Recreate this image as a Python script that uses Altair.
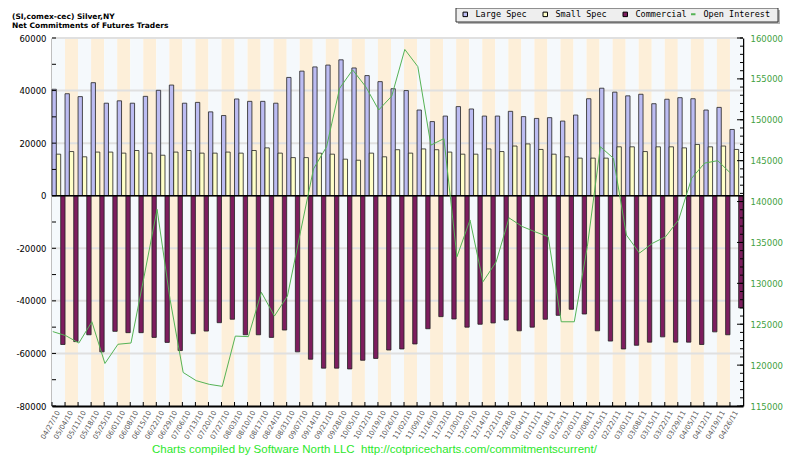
import altair as alt
import pandas as pd

dates = ["04/27/10", "05/04/10", "05/11/10", "05/18/10", "05/25/10", "06/01/10", "06/08/10",
         "06/15/10", "06/22/10", "06/29/10", "07/06/10", "07/13/10", "07/20/10", "07/27/10",
         "08/03/10", "08/10/10", "08/17/10", "08/24/10", "08/31/10", "09/07/10", "09/14/10",
         "09/21/10", "09/28/10", "10/05/10", "10/12/10", "10/19/10", "10/26/10", "11/02/10",
         "11/09/10", "11/16/10", "11/23/10", "11/30/10", "12/07/10", "12/14/10", "12/21/10",
         "12/28/10", "01/04/11", "01/11/11", "01/18/11", "01/25/11", "02/01/11", "02/08/11",
         "02/15/11", "02/22/11", "03/01/11", "03/08/11", "03/15/11", "03/22/11", "03/29/11",
         "04/05/11", "04/12/11", "04/19/11", "04/26/11"]

large_spec = [40500, 38800, 37700, 43000, 35200, 36100, 35200, 37800, 40100, 42100,
              35200, 35500, 31900, 30500, 36800, 35900, 35900, 35200, 45000, 47400,
              49000, 49700, 51700, 48600, 45700, 43400, 40700, 40000, 32600, 28200,
              30300, 33900, 33000, 30300, 30300, 32100, 30100, 29400, 29700, 28400,
              30700, 36900, 40900, 39400, 38000, 38600, 35000, 36700, 37300, 36900,
              32600, 33600, 25200]

small_spec = [15800, 16800, 14800, 16600, 16600, 16200, 17200, 16200, 15400, 16600,
              17200, 16200, 16200, 16600, 16200, 17200, 18200, 16200, 14500, 14500,
              16200, 15800, 13900, 13500, 16200, 14800, 17500, 16200, 17800, 17500,
              16600, 15800, 15800, 17800, 16800, 18900, 19700, 17600, 15800, 14800,
              14300, 14300, 14300, 18600, 18600, 16800, 18600, 18600, 18200, 19500,
              18600, 18900, 17600]

commercial = [-56600, -55500, -52900, -59400, -51600, -52100, -52100, -53900, -55800, -58900,
              -52500, -51500, -48300, -47000, -52900, -52900, -53900, -51100, -59400, -62200,
              -65600, -65600, -65900, -62600, -61900, -58700, -58300, -56400, -50600, -46000,
              -46900, -50000, -48900, -48400, -47300, -51400, -50000, -47000, -45500, -43200,
              -45000, -51400, -55300, -58300, -56900, -55700, -53700, -55700, -55700, -56600,
              -51800, -52900, -42700]

open_interest = [124100, 123600, 122700, 125300, 120200, 122550, 122700, 130800, 139050, 128000,
                 119100, 118100, 117650, 117400, 123550, 123480, 128900, 126000, 128450, 136300,
                 144000, 146700, 153850, 156100, 154050, 151200, 152900, 158600, 156500, 146900,
                 147700, 133250, 137750, 130200, 132600, 138000, 136950, 136300, 135700, 125300,
                 125300, 134500, 146700, 145300, 135900, 133700, 134900, 135700, 137750, 142850,
                 144700, 145000, 143450]

series_names = ["Large Spec", "Small Spec", "Commercial"]
series_colors = ["#bcbcf2", "#ffffc8", "#7d1d5e"]
left_labels = [-80000, -60000, -40000, -20000, 0, 20000, 40000, 60000]
left_ticks = list(range(-80000, 60001, 10000))
grid_vals = [60000, 40000, 20000, -20000, -40000, -60000]
right_labels = list(range(115000, 160001, 5000))
right_minor = list(range(115000, 160001, 1000))

title1 = "(SI,comex-cec) Silver,NY"
title2 = "Net Commitments of Futures Traders"
footer = "Charts compiled by Software North LLC \u00a0http://cotpricecharts.com/commitmentscurrent/"

W, H = 691, 368
GREEN_AX = "#3f9f3f"

df = pd.DataFrame({"date": dates, "Large Spec": large_spec, "Small Spec": small_spec,
                   "Commercial": commercial, "oi": open_interest})
df["parity"] = ["a" if i % 2 == 0 else "b" for i in range(len(dates))]
long = df.melt(id_vars=["date"], value_vars=series_names, var_name="series", value_name="value")

x_scale = alt.Scale(domain=dates, paddingInner=0, paddingOuter=0)
x_axis = alt.Axis(title=None, labelAngle=300, labelAlign="right", labelBaseline="middle",
                  labelFont="DejaVu Sans", labelFontSize=7, labelColor="#555555",
                  labelPadding=5, ticks=False, domainColor="#000000", domainWidth=2,
                  labelOverlap=False, grid=False)


def X(**kw):
    return alt.X("date:N", sort=dates, scale=x_scale, axis=x_axis, **kw)


yl_scale = alt.Scale(domain=[-80000, 60000], nice=False, zero=False)
yl_axis = alt.Axis(title=None, values=left_labels, labelExpr="'' + datum.value", ticks=False,
                   grid=False, domainColor="#000000", domainWidth=1.5,
                   labelFont="DejaVu Sans", labelFontSize=8.5, labelColor="#000000",
                   labelPadding=6, orient="left")
yr_scale = alt.Scale(domain=[115000, 160000], nice=False, zero=False)
yr_axis = alt.Axis(title=None, values=right_labels, labelExpr="'' + datum.value", ticks=False,
                   grid=False, domainColor="#000000", domainWidth=1.5,
                   labelFont="DejaVu Sans", labelFontSize=8.5, labelColor=GREEN_AX,
                   labelPadding=7, orient="right")

bg = alt.Chart(df).mark_rect().encode(
    x=X(), y=alt.value(0), y2=alt.value(H),
    color=alt.Color("parity:N", scale=alt.Scale(domain=["a", "b"], range=["#f5f9fc", "#fdefd9"]),
                    legend=None))

grid = alt.Chart(pd.DataFrame({"g": grid_vals})).mark_rule(color="#e0e0e0", strokeWidth=2).encode(
    y=alt.Y("g:Q", scale=yl_scale, axis=yl_axis))

bars = alt.Chart(long).mark_bar(stroke="#222222", strokeWidth=0.8).encode(
    x=X(),
    xOffset=alt.XOffset("series:N", sort=series_names,
                        scale=alt.Scale(domain=series_names, paddingInner=0, paddingOuter=0)),
    y=alt.Y("value:Q", scale=yl_scale, axis=yl_axis),
    fill=alt.Fill("series:N", scale=alt.Scale(domain=series_names, range=series_colors),
                  legend=alt.Legend(orient="none", legendX=409, legendY=-28, direction="horizontal",
                                    title=None, symbolType="square", symbolSize=20,
                                    symbolStrokeColor="#000000", symbolStrokeWidth=1,
                                    labelFont="DejaVu Sans Mono", labelFontSize=8.5,
                                    labelColor="#000000", labelOffset=6, columnPadding=14,
                                    padding=0)))

zero = alt.Chart(pd.DataFrame({"z": [0]})).mark_rule(color="#000000", strokeWidth=1.5).encode(
    y=alt.Y("z:Q", scale=yl_scale, axis=yl_axis))

lticks = alt.Chart(pd.DataFrame({"t": left_ticks})).mark_rule(color="#000000", strokeWidth=1).encode(
    y=alt.Y("t:Q", scale=yl_scale, axis=yl_axis), x=alt.value(0), x2=alt.value(4))

xticks = alt.Chart(df).mark_rule(color="#000000", strokeWidth=1).encode(
    x=X(bandPosition=0), y=alt.value(H - 4), y2=alt.value(H))

one = pd.DataFrame({"k": [1]})
shadow = alt.Chart(one).mark_rect(color="#b4b4b4").encode(
    x=alt.value(406), x2=alt.value(728), y=alt.value(-28), y2=alt.value(-14))
box = alt.Chart(one).mark_rect(fill="#eeeeee", stroke="#333333", strokeWidth=1).encode(
    x=alt.value(404), x2=alt.value(726), y=alt.value(-30), y2=alt.value(-16))

t1 = alt.Chart(one).mark_text(text=title1, align="left", font="DejaVu Sans", fontSize=7.5,
                              fontWeight="bold", color="#000000").encode(
    x=alt.value(-40), y=alt.value(-21))
t2 = alt.Chart(one).mark_text(text=title2, align="left", font="DejaVu Sans", fontSize=7.5,
                              fontWeight="bold", color="#000000").encode(
    x=alt.value(-40), y=alt.value(-12))
foot = alt.Chart(one).mark_text(text=footer, align="left", font="Liberation Sans", fontSize=11.5,
                                color="#2be82b").encode(
    x=alt.value(100), y=alt.value(412))

left_group = alt.layer(bg, grid, bars, zero, lticks, xticks, shadow, box, t1, t2, foot)

line = alt.Chart(df).transform_calculate(s="'Open Interest'").mark_line(strokeWidth=1).encode(
    x=X(bandPosition=0.06),
    y=alt.Y("oi:Q", scale=yr_scale, axis=yr_axis),
    stroke=alt.Stroke("s:N", scale=alt.Scale(domain=["Open Interest"], range=["#55b355"]),
                      legend=alt.Legend(orient="none", legendX=637, legendY=-28,
                                        direction="horizontal", title=None, symbolType="stroke",
                                        symbolSize=20, symbolStrokeWidth=2,
                                        labelFont="DejaVu Sans Mono", labelFontSize=8.5,
                                        labelColor="#000000", labelOffset=6, padding=0)))

rminor = alt.Chart(pd.DataFrame({"t": right_minor})).mark_rule(color="#000000", strokeWidth=1).encode(
    y=alt.Y("t:Q", scale=yr_scale, axis=yr_axis), x=alt.value(W - 3), x2=alt.value(W))
rmajor = alt.Chart(pd.DataFrame({"t": right_labels})).mark_rule(color="#000000", strokeWidth=1).encode(
    y=alt.Y("t:Q", scale=yr_scale, axis=yr_axis), x=alt.value(W - 6), x2=alt.value(W))

right_group = alt.layer(line, rminor, rmajor)

chart = alt.layer(left_group, right_group).resolve_scale(
    y="independent", fill="independent", stroke="independent", color="independent"
).properties(
    width=W, height=H,
    padding={"left": 44, "top": 30, "right": 49, "bottom": 52},
    autosize=alt.AutoSizeParams(type="none"),
    background="#ffffff",
).configure_view(stroke=None)

chart.save("out.html", embed_options={"renderer": "svg", "actions": False})
